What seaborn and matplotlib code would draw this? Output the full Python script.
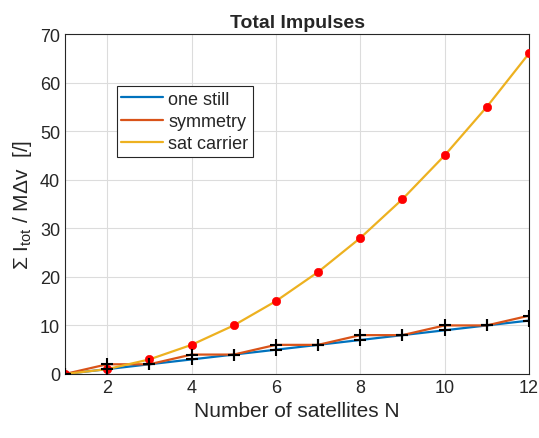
import numpy as np
import pandas as pd
import matplotlib
matplotlib.use("Agg")
import matplotlib.pyplot as plt
import seaborn as sns

N = [1, 2, 3, 4, 5, 6, 7, 8, 9, 10, 11, 12]
one_still = [0, 1, 2, 3, 4, 5, 6, 7, 8, 9, 10, 11]
symmetry = [0, 2, 2, 4, 4, 6, 6, 8, 8, 10, 10, 12]
sat_carrier = [0, 1, 3, 6, 10, 15, 21, 28, 36, 45, 55, 66]

sns.set_style("whitegrid")
plt.rcParams['font.family'] = ['Liberation Sans', 'DejaVu Sans']
plt.rcParams['mathtext.fontset'] = 'custom'
plt.rcParams['mathtext.rm'] = 'Liberation Sans'
plt.rcParams['mathtext.it'] = 'Liberation Sans:italic'

fig = plt.figure(figsize=(5.39, 4.39), dpi=100)
ax = fig.add_axes([65/539, 1 - 375/439, 464/539, 340/439])

df = pd.DataFrame({'N': N, 'one still': one_still, 'symmetry': symmetry,
                   'sat carrier': sat_carrier})
colors = {'one still': '#0072BD', 'symmetry': '#D95319', 'sat carrier': '#EDB120'}
for name in ['one still', 'symmetry', 'sat carrier']:
    sns.lineplot(data=df, x='N', y=name, ax=ax, color=colors[name], lw=1.6, label=name)

sns.scatterplot(data=df, x='N', y='sat carrier', ax=ax, marker='o', color='red', s=36,
                edgecolor='red', zorder=4, legend=False)
sns.scatterplot(data=df, x='N', y='one still', ax=ax, marker='+', color='black', s=80,
                linewidth=1.5, zorder=5, legend=False)
sns.scatterplot(data=df, x='N', y='symmetry', ax=ax, marker='+', color='black', s=80,
                linewidth=1.5, zorder=5, legend=False)

ax.set_xlim(1, 12)
ax.set_ylim(0, 70)
ax.set_xticks([2, 4, 6, 8, 10, 12])
ax.set_yticks(range(0, 71, 10))
ax.tick_params(labelsize=13, colors='#262626', length=0)
ax.grid(True, color='#dcdcdc', lw=0.8)
for s in ax.spines.values():
    s.set_color('#262626')
    s.set_linewidth(0.8)
    s.set_visible(True)

ax.set_title('Total Impulses', fontsize=14, fontweight='bold', pad=5)
ax.set_xlabel('Number of satellites N', fontsize=15, color='#262626')
ax.set_ylabel(r'$\Sigma$ I$_{\mathrm{tot}}$ / M$\Delta$v  [$\mathit{/}$]', fontsize=15,
              color='#262626')

leg = ax.legend(loc='upper left', bbox_to_anchor=(0.112, 0.847), fontsize=13,
                frameon=True, fancybox=False, edgecolor='#262626', framealpha=1,
                handlelength=2.3, handletextpad=0.3, borderpad=0.25, labelspacing=0.3,
                borderaxespad=0)
leg.get_frame().set_linewidth(0.8)

fig.savefig('out.png', dpi=100)
